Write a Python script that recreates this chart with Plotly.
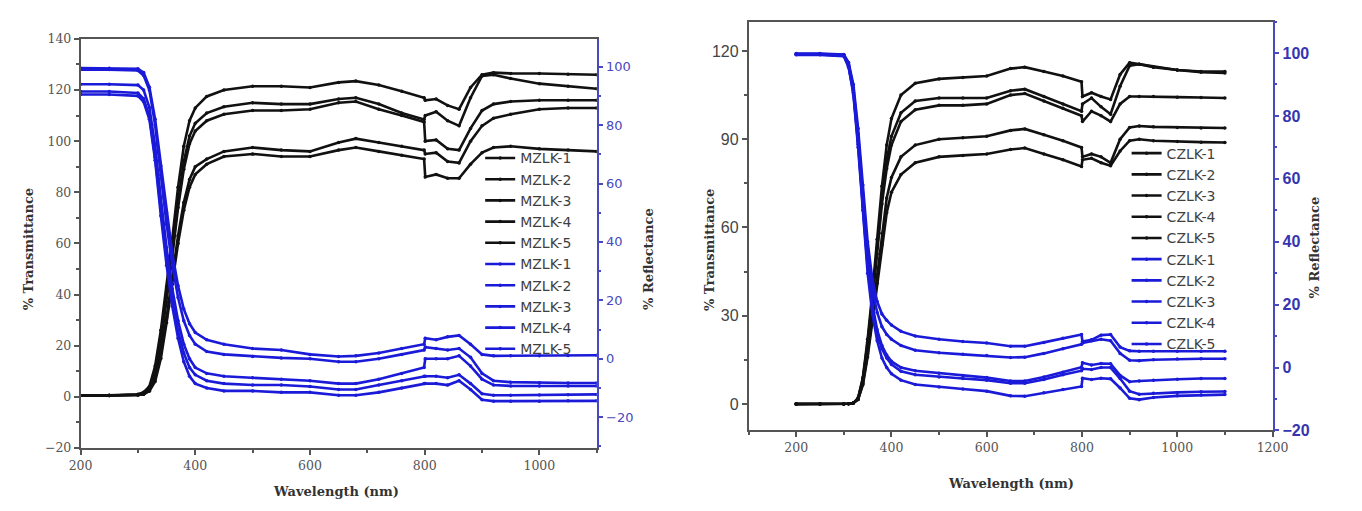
import plotly.graph_objects as go

W, H = 1362, 511

# Wavelength grid (nm) used for both panels
WL = [200, 250, 300, 310, 320, 330, 340, 350, 360, 370, 380, 390, 400, 420, 450, 500,
      550, 600, 650, 680, 720, 760, 799, 801, 820, 840, 860, 880, 900, 920, 950, 1000, 1050, 1100]

# ---------- Left panel (MZLK) ----------
MZLK_NAMES = ["MZLK-1", "MZLK-2", "MZLK-3", "MZLK-4", "MZLK-5"]
MZLK_T1 = [0.5, 0.6, 1.0, 1.8, 4, 12, 26, 43, 62, 82, 98, 108, 113, 117.5, 120, 121.5,
           121.5, 121, 123, 123.5, 122, 119.5, 117, 116, 116.5, 114, 112.5, 121, 126, 126.8, 126.5, 126.5, 126.2, 126]
MZLK_T2 = [0.5, 0.5, 0.8, 1.5, 3.5, 10, 23, 39, 57, 76, 92, 102, 107, 111, 113.5, 115,
           114.5, 114.5, 116.5, 117, 114.5, 111, 108.5, 110, 111.5, 108, 106, 117, 125.5, 126, 124.5, 122.5, 121.5, 120.5]
MZLK_T3 = [0.5, 0.5, 0.8, 1.3, 3, 9, 21, 37, 55, 74, 89, 99, 104, 108, 110.5, 112,
           112, 112.5, 115, 115.5, 112.5, 110, 107.5, 100, 100.5, 97, 96.5, 105, 112, 114.5, 115.5, 116, 116, 116]
MZLK_T4 = [0.5, 0.5, 0.7, 1.0, 2.5, 7, 17, 31, 47, 63, 76, 85, 90, 93, 96, 97.5,
           96.5, 96, 99.5, 101, 99.5, 98, 96.5, 95, 95.5, 92, 91.5, 100, 106, 109, 110.5, 112.5, 113, 113]
MZLK_T5 = [0.5, 0.5, 0.7, 1.0, 2.2, 6, 15, 29, 44, 60, 73, 82, 87, 91, 94, 95,
           94, 94, 96.5, 97.5, 96, 94.5, 93, 86, 87, 85.5, 85.5, 91, 95.5, 97.5, 98, 97, 96.5, 96]

MZLK_R1 = [99.5, 99.5, 99.3, 98, 93, 82, 66, 50, 36, 25, 17, 12, 9, 6.5, 5, 3.5,
           3, 1.5, 0.8, 1, 2, 3.5, 5, 7, 6.5, 7.5, 8, 5, 1.5, 1, 1, 1, 1.1, 1.2]
MZLK_R2 = [99, 99, 98.7, 97, 92, 80, 63, 46, 32, 21, 13, 8, 5, 2.5, 1.5, 0.8,
           0.3, 0, -1, -1, 0, 1.5, 3, 4, 3.5, 3, 3.5, 0.5, -5, -7.5, -8, -8.2, -8.3, -8.3]
MZLK_R3 = [94, 94, 93.7, 92, 86, 73, 55, 38, 24, 13, 5, 0, -3, -5, -6, -6.5,
           -7, -7.5, -8.5, -8.5, -7, -5, -3, 0, 0, 0, 1, -2.5, -7, -9, -9.3, -9.3, -9.3, -9.3]
MZLK_R4 = [91.5, 91.5, 91, 89, 83, 69, 51, 34, 20, 9.5, 2, -3, -5.5, -7.5, -8.5, -9,
           -9, -9.5, -10.5, -10.5, -9, -7.5, -6, -6, -6, -6.5, -5.5, -8.5, -12, -12.5, -12.5, -12.4, -12.3, -12.2]
MZLK_R5 = [90.5, 90.5, 90, 88, 82, 68, 49, 32, 18, 7, -1, -6, -8.5, -10, -11, -11,
           -11.5, -11.5, -12.5, -12.5, -11.5, -10, -8.5, -8.5, -8.5, -9, -7.5, -10.5, -14, -14.5, -14.5, -14.5, -14.4, -14.4]

# ---------- Right panel (CZLK) ----------
CZLK_NAMES = ["CZLK-1", "CZLK-2", "CZLK-3", "CZLK-4", "CZLK-5"]
CZLK_T1 = [0, 0, 0, 0.1, 0.3, 2, 9, 22, 38, 56, 74, 88, 97, 105, 109, 110.5,
           111, 111.5, 114, 114.5, 113, 111.5, 109.5, 104.5, 105.8, 104.5, 103.5, 112, 116, 115.5, 114.5, 113.5, 113, 113]
CZLK_T2 = [0, 0, 0, 0.1, 0.3, 2, 8.5, 21, 36, 53, 70, 83, 91, 99, 103, 104,
           104, 104, 106.5, 107, 104.5, 102, 99.5, 102, 104, 101, 98.5, 108, 115, 115.5, 114.5, 113.5, 112.8, 112.5]
CZLK_T3 = [0, 0, 0, 0.1, 0.3, 1.8, 8, 20, 35, 51, 68, 80, 88, 96, 100, 101.5,
           101.5, 102, 105, 105.5, 103, 100.5, 98, 96, 99.5, 98, 96, 102, 104.5, 104.5, 104.5, 104.3, 104.2, 104]
CZLK_T4 = [0, 0, 0, 0.1, 0.3, 1.5, 7, 17, 30, 44, 58, 70, 77, 84, 88, 90,
           90.5, 91, 93, 93.5, 91.5, 89.5, 87.2, 84, 85, 84, 82, 90, 94, 94.5, 94.2, 94, 93.8, 93.8]
CZLK_T5 = [0, 0, 0, 0.1, 0.3, 1.5, 6.5, 16, 28, 41, 54, 65, 72, 78, 82, 84,
           84.5, 85, 86.5, 87, 85, 83, 80.7, 83, 83.5, 82, 81, 86, 89.5, 90, 89.5, 89.2, 89, 88.9]

CZLK_R1 = [99.8, 99.8, 99.5, 97, 90, 76, 58, 40, 28, 21, 17, 15, 13.5, 11.5, 10, 9,
           8.3, 7.8, 6.8, 6.8, 8, 9.3, 10.5, 8.3, 8.8, 10.3, 10.5, 6.5, 5.3, 5.2, 5.2, 5.2, 5.2, 5.2]
CZLK_R2 = [99.7, 99.7, 99.4, 96.5, 89, 74, 55, 37, 25, 17.5, 13, 10.5, 9, 7, 5.5, 4.7,
           4.2, 3.8, 3.2, 3.3, 4.5, 6, 7.4, 7.8, 8.5, 9, 8.5, 4.5, 2.3, 2.2, 2.5, 2.7, 2.8, 2.8]
CZLK_R3 = [99.6, 99.6, 99.2, 96, 88, 72, 52, 33, 20, 12, 7, 4, 2, 0, -1, -1.8,
           -2.5, -3.2, -4.3, -4.3, -3, -1.5, 0.1, 1.5, 0.8, 1.3, 1.2, -2.5, -4.5, -4.3, -4, -3.7, -3.5, -3.5]
CZLK_R4 = [99.5, 99.5, 99.1, 95.8, 87.5, 71, 51, 32, 19, 11, 6, 3, 1, -1.2, -2.3, -3,
           -3.5, -4, -5, -5, -3.8, -2.3, -1, -0.4, -0.6, 0, 0, -3.5, -7.5, -8.5, -8.2, -7.9, -7.7, -7.6]
CZLK_R5 = [99.4, 99.4, 99, 95.5, 87, 70, 50, 30, 17, 8.5, 3, 0, -2, -4, -5.4, -6.2,
           -6.8, -7.5, -9, -9.1, -8, -7, -6, -3.4, -3.8, -3.4, -3.6, -6.5, -9.8, -10.2, -9.5, -9, -8.7, -8.6]

BLACK = "#111111"
BLUE = "#1a1ad8"

fig = go.Figure()

def add_set(names, series, color, xa, ya, leg, tag):
    for n, s in zip(names, series):
        fig.add_trace(go.Scatter(
            x=WL, y=s, name=n, mode="lines+markers", xaxis=xa, yaxis=ya, legend=leg,
            legendgroup=tag + n, line=dict(color=color, width=2.6),
            marker=dict(color=color, size=3.5), showlegend=True))

add_set(MZLK_NAMES, [MZLK_T1, MZLK_T2, MZLK_T3, MZLK_T4, MZLK_T5], BLACK, "x", "y", "legend", "mt")
add_set(MZLK_NAMES, [MZLK_R1, MZLK_R2, MZLK_R3, MZLK_R4, MZLK_R5], BLUE, "x", "y2", "legend", "mr")
add_set(CZLK_NAMES, [CZLK_T1, CZLK_T2, CZLK_T3, CZLK_T4, CZLK_T5], BLACK, "x2", "y3", "legend2", "ct")
add_set(CZLK_NAMES, [CZLK_R1, CZLK_R2, CZLK_R3, CZLK_R4, CZLK_R5], BLUE, "x2", "y4", "legend2", "cr")

def px_x(p): return p / W
def px_y(p): return 1 - p / H

AX_GRAY = "#555555"
AX_BLUE = "#4848c0"
tick_serif = dict(family="DejaVu Serif", size=12.5, color="#555555")

common = dict(showgrid=False, zeroline=False, showline=True, linewidth=1.5,
              ticks="outside", ticklen=5, tickwidth=1.5)

fig.update_layout(
    width=W, height=H, margin=dict(l=0, r=0, t=0, b=0),
    paper_bgcolor="white", plot_bgcolor="white",
    xaxis=dict(domain=[px_x(70), px_x(597)], range=[200, 1100], anchor="y",
               tick0=200, dtick=200, linecolor=AX_GRAY, tickcolor=AX_GRAY, mirror=True,
               minor=dict(dtick=100, ticklen=3, ticks="outside", tickcolor=AX_GRAY),
               tickfont=tick_serif, **common),
    yaxis=dict(domain=[px_y(455), px_y(32)], range=[-20, 140], anchor="x",
               tick0=0, dtick=20, linecolor=AX_GRAY, tickcolor=AX_GRAY,
               minor=dict(dtick=10, ticklen=3, ticks="outside", tickcolor=AX_GRAY),
               tickfont=tick_serif, **common),
    yaxis2=dict(overlaying="y", side="right", anchor="x", range=[-30.5, 109.5],
                tick0=0, dtick=20, linecolor=AX_BLUE, tickcolor=AX_BLUE,
                minor=dict(dtick=10, ticklen=3, ticks="outside", tickcolor=AX_BLUE),
                tickfont=dict(family="DejaVu Sans", size=13, color="#4848c0"), **common),
    xaxis2=dict(domain=[px_x(752), px_x(1287)], range=[100, 1200], anchor="y3",
                tick0=0, dtick=200, linecolor=AX_GRAY, tickcolor=AX_GRAY, mirror=True,
                minor=dict(dtick=100, ticklen=3, ticks="outside", tickcolor=AX_GRAY),
                tickfont=tick_serif, **common),
    yaxis3=dict(domain=[px_y(437), px_y(14)], range=[-9, 130], anchor="x2",
                tick0=0, dtick=30, linecolor=AX_GRAY, tickcolor=AX_GRAY,
                minor=dict(dtick=15, ticklen=3, ticks="outside", tickcolor=AX_GRAY),
                tickfont=dict(family="Liberation Sans", size=16, color="#444444"), **common),
    yaxis4=dict(overlaying="y3", side="right", anchor="x2", range=[-20, 110],
                tick0=0, dtick=20, linecolor=AX_BLUE, tickcolor=AX_BLUE,
                minor=dict(dtick=10, ticklen=3, ticks="outside", tickcolor=AX_BLUE),
                tickfont=dict(family="Liberation Sans", size=16, color="#3535b0", weight="bold"), **common),
    legend=dict(x=px_x(478), y=px_y(139), xanchor="left", yanchor="top",
                bgcolor="rgba(0,0,0,0)", font=dict(family="DejaVu Sans", size=14, color="#3f3f3f"),
                tracegroupgap=0, itemwidth=30),
    legend2=dict(x=px_x(1138), y=px_y(134), xanchor="left", yanchor="top",
                 bgcolor="rgba(0,0,0,0)", font=dict(family="DejaVu Sans", size=14, color="#3f3f3f"),
                 tracegroupgap=0, itemwidth=30),
    showlegend=True,
)

title_font = dict(family="DejaVu Serif", size=13, color="#333333", weight="bold")
annos = [
    dict(text="% Transmittance", x=px_x(17), y=px_y(250), textangle=-90),
    dict(text="% Reflectance", x=px_x(650), y=px_y(260), textangle=-90),
    dict(text="Wavelength (nm)", x=px_x(331), y=px_y(500), textangle=0),
    dict(text="% Transmittance", x=px_x(712), y=px_y(250), textangle=-90),
    dict(text="% Reflectance", x=px_x(1330), y=px_y(248), textangle=-90),
    dict(text="Wavelength (nm)", x=px_x(1020), y=px_y(492), textangle=0),
]
for a in annos:
    fig.add_annotation(xref="paper", yref="paper", showarrow=False, font=title_font,
                       xanchor="center", yanchor="middle", **a)

fig.write_html("out.html")
